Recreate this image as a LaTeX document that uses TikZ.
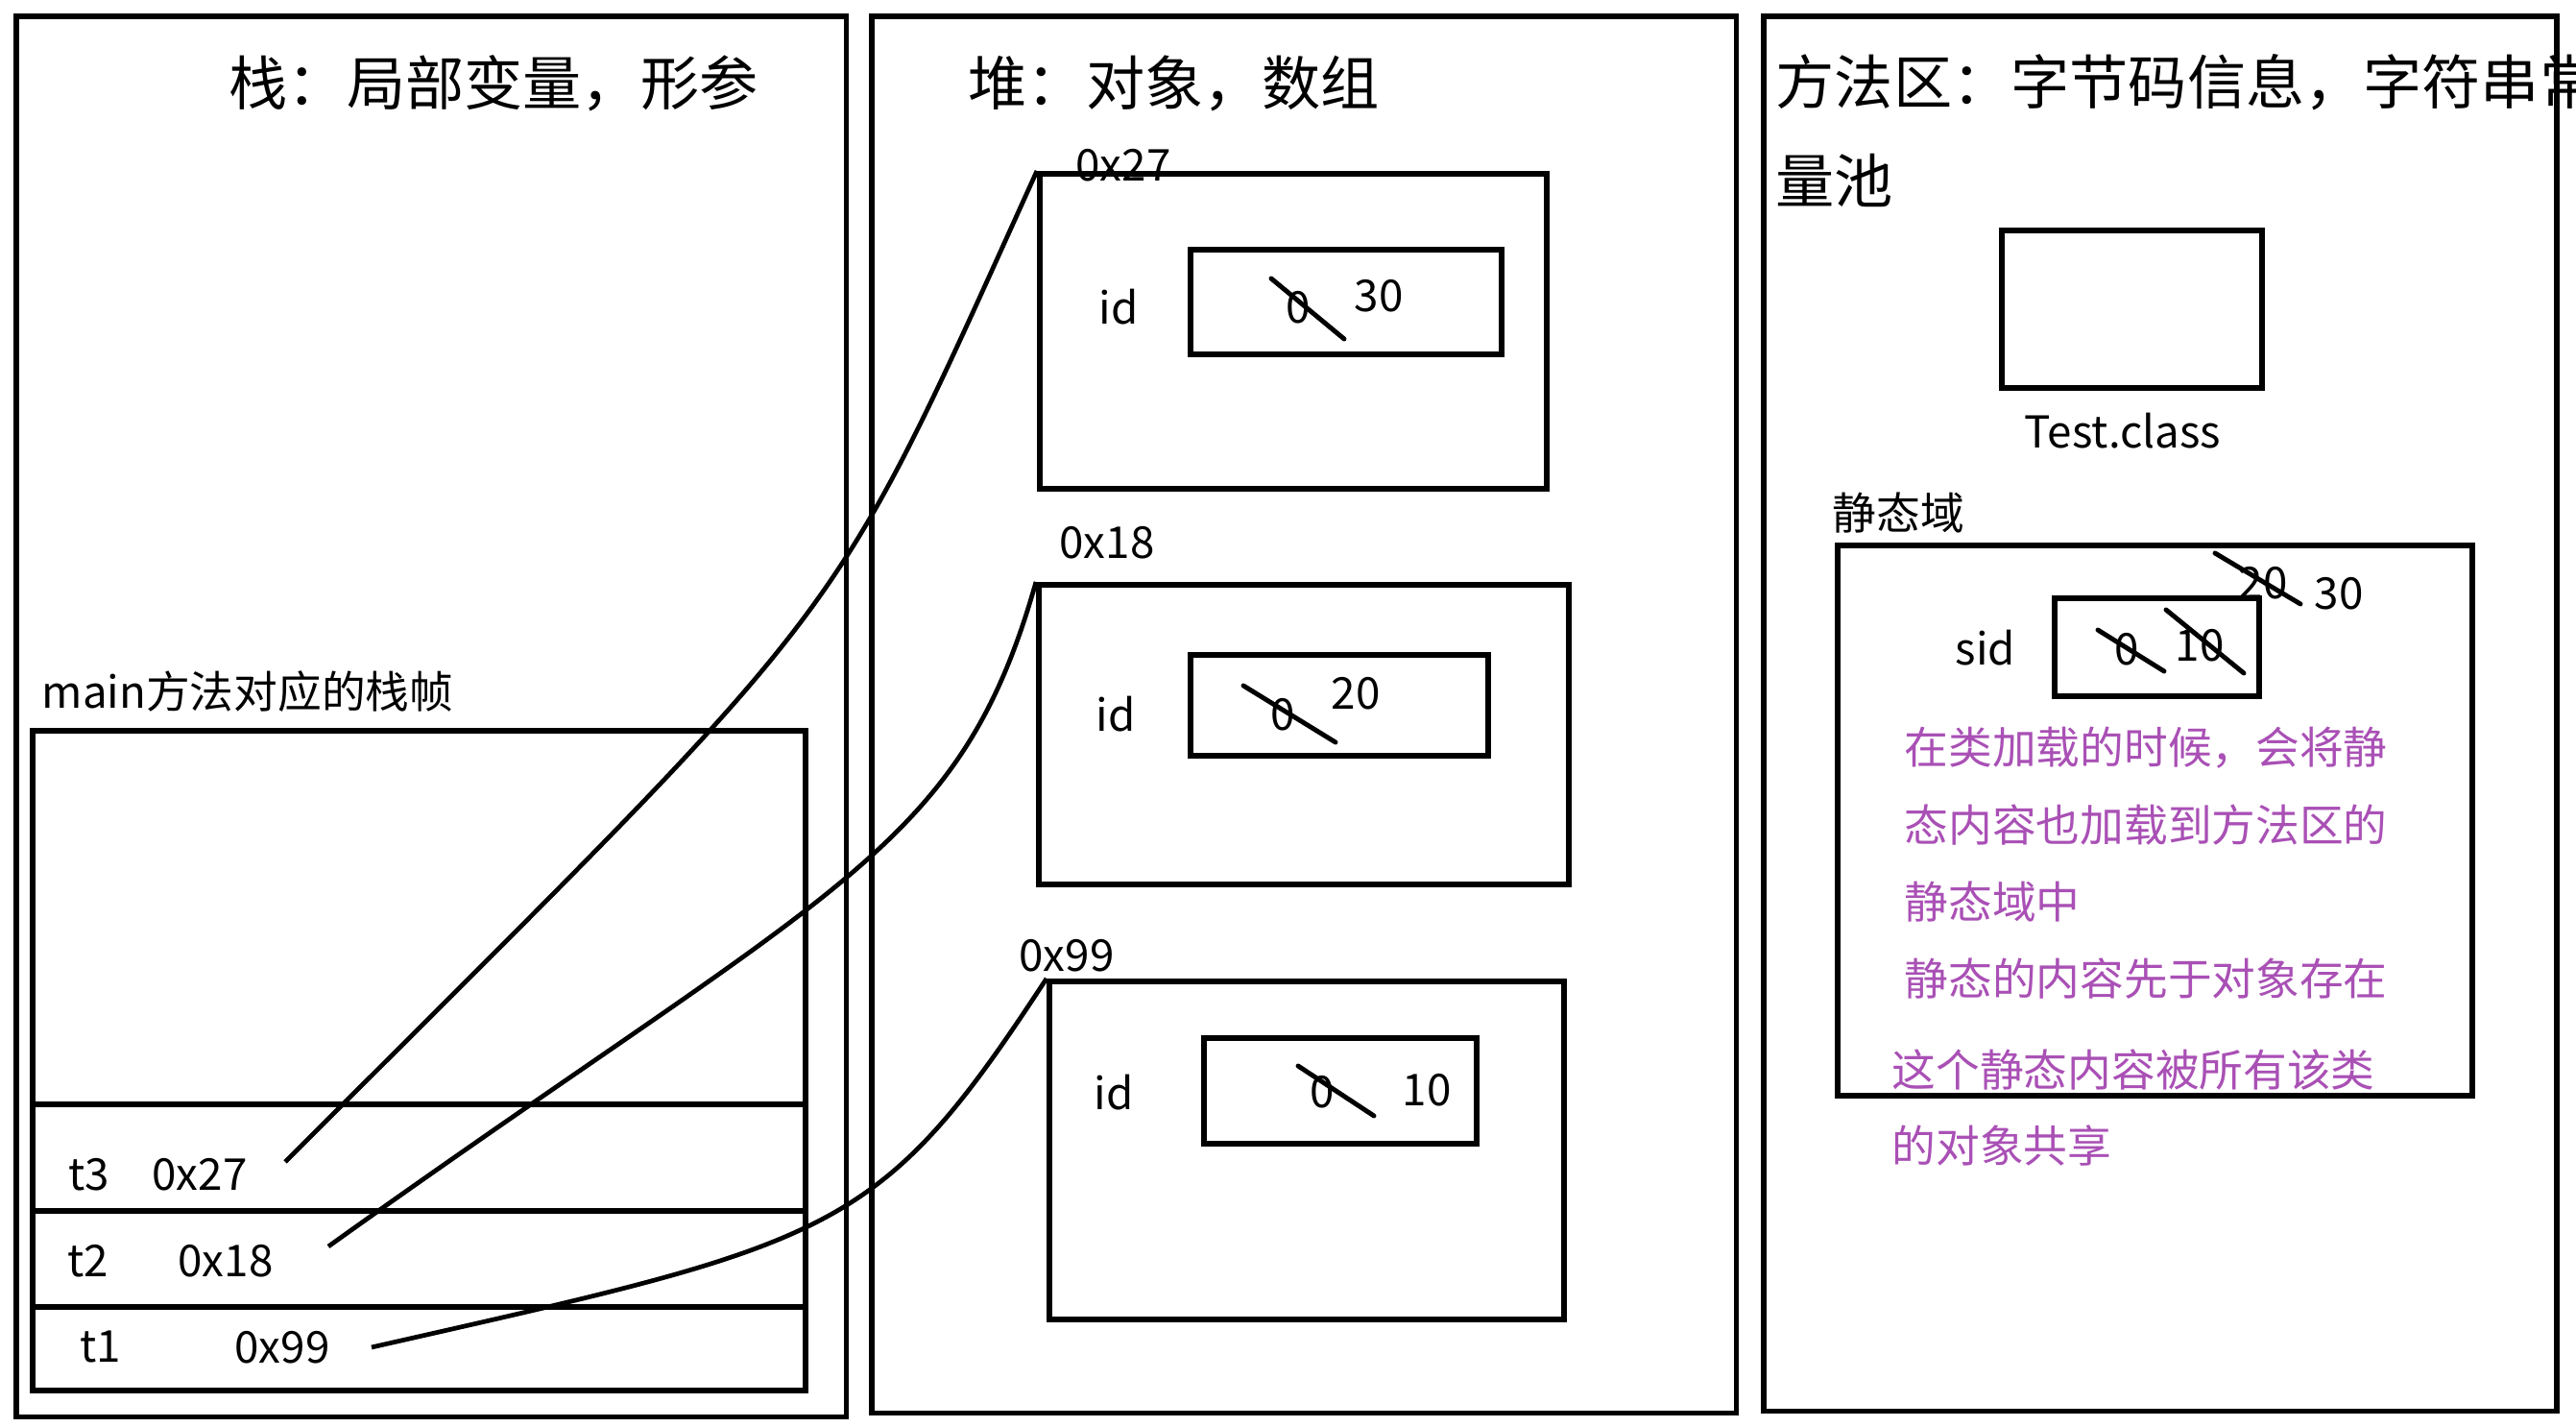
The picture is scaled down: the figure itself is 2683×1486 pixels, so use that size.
\documentclass[tikz,border=0pt]{standalone}
\usepackage{fontspec}
\setmainfont{Noto Sans CJK SC}
\usetikzlibrary{positioning, calc}
\definecolor{NotePurple}{HTML}{A950B5}

\tikzset{
  panel/.style={draw, line width=1.6pt, anchor=north west, inner sep=0pt},
  slot/.style={draw, line width=1.6pt, anchor=north west, inner sep=0pt},
  lbl/.style={font=\fontsize{13pt}{15pt}\selectfont, inner sep=0pt},
  areatitle/.style={font=\fontsize{17.4pt}{20pt}\selectfont, inner sep=0pt, anchor=west},
  note/.style={lbl, text=NotePurple, anchor=west},
  strike/.style={line width=1.4pt, line cap=round},
  pointer/.style={line width=1.35pt},
}

\begin{document}
\begin{tikzpicture}[x=0.01cm, y=-0.01cm]
  \useasboundingbox (0,0) rectangle (2683,1486);

  % three memory areas
  \node[panel, minimum width=8.64cm, minimum height=14.58cm] (stack) at (14,14) {};
  \node[panel, minimum width=9.00cm, minimum height=14.54cm] (heap) at (905,14) {};
  \node[panel, minimum width=8.26cm, minimum height=14.52cm] (method) at (1834,14) {};

  \node[areatitle] (stackT) at (238,87) {栈：局部变量，形参};
  \node[areatitle] (heapT) at (1008,87) {堆：对象，数组};
  \node[areatitle] (methodT) at (1849,86) {方法区：字节码信息，字符串常};
  \node[areatitle] (methodT2) at (1849,188) {量池};

  % stack frame of main
  \node[lbl, anchor=west] (frameT) at (43,720) {main方法对应的栈帧};
  \node[slot, minimum width=8.05cm, minimum height=6.87cm] (frame) at (31,758) {};
  \foreach \y in {1150,1261,1361}
    \draw[line width=1.6pt] (frame.west |- 0,\y) -- (frame.east |- 0,\y);

  \node[lbl] (t3) at (93,1223) {t3};
  \node[lbl] (v3) at (208,1223) {0x27};
  \node[lbl] (t2) at (92,1313) {t2};
  \node[lbl] (v2) at (235,1313) {0x18};
  \node[lbl] (t1) at (105,1403) {t1};
  \node[lbl] (v1) at (294,1403) {0x99};

  % objects in the heap
  \node[slot, minimum width=5.28cm, minimum height=3.28cm] (obj27) at (1080,178) {};
  \node[slot, minimum width=3.24cm, minimum height=1.09cm] (box27) at (1237,257) {};
  \node[lbl] (a27) at (1170,172) {0x27};
  \node[lbl] (id27) at (1165,320) {id};
  \node[lbl] (old27) at (1352,320) {0};
  \node[lbl] (new27) at (1436,308) {30};
  \draw[strike] (1324,290) -- (1400,353);

  \node[slot, minimum width=5.52cm, minimum height=3.12cm] (obj18) at (1079,606) {};
  \node[slot, minimum width=3.10cm, minimum height=1.05cm] (box18) at (1237,679) {};
  \node[lbl] (a18) at (1153,565) {0x18};
  \node[lbl] (id18) at (1162,744) {id};
  \node[lbl] (old18) at (1336,744) {0};
  \node[lbl] (new18) at (1412,722) {20};
  \draw[strike] (1295,714) -- (1391,773);

  \node[slot, minimum width=5.36cm, minimum height=3.52cm] (obj99) at (1090,1019) {};
  \node[slot, minimum width=2.84cm, minimum height=1.10cm] (box99) at (1251,1078) {};
  \node[lbl] (a99) at (1111,995) {0x99};
  \node[lbl] (id99) at (1160,1138) {id};
  \node[lbl] (old99) at (1377,1137) {0};
  \node[lbl] (new99) at (1486,1135) {10};
  \draw[strike] (1352,1110) -- (1431,1162);

  % references from the stack
  \coordinate (p27) at (297,1210);
  \coordinate (p18) at (342,1298);
  \coordinate (p99) at (387,1403);
  \draw[pointer] (p27) .. controls +(600,-600) and +(-222,490) .. (obj27.north west);
  \draw[pointer] (p18) .. controls +(527,-377) and +(-80,283) .. (obj18.north west);
  \draw[pointer] (p99) .. controls +(485,-110) and +(-176,269) .. (obj99.north west);

  % method area
  \node[slot, minimum width=2.71cm, minimum height=1.64cm] (classbox) at (2082,237) {};
  \node[lbl] (classT) at (2211,449) {Test.class};

  \node[lbl, anchor=west] (staticT) at (1908,534) {静态域};
  \node[slot, minimum width=6.61cm, minimum height=5.73cm] (static) at (1911,565) {};
  \node[slot, minimum width=2.13cm, minimum height=1.02cm] (sidbox) at (2137,620) {};
  \node[lbl] (sid) at (2068,675) {sid};
  \node[lbl] (sid0) at (2215,676) {0};
  \node[lbl] (sid10) at (2291,672) {10};
  \node[lbl] (sid20) at (2357,607) {20};
  \node[lbl] (sid30) at (2436,618) {30};
  \draw[strike] (2185,656) -- (2254,699);
  \draw[strike] (2256,635) -- (2337,701);
  \draw[strike] (2307,576) -- (2396,629);

  \foreach \txt [count=\i] in {在类加载的时候，会将静, 态内容也加载到方法区的, 静态域中, 静态的内容先于对象存在}
    \node[note] (note\i) at (1983,{779+80*(\i-1)}) {\txt};
  \node[note] (note5) at (1970,1114) {这个静态内容被所有该类};
  \node[note] (note6) at (1970,1193) {的对象共享};
\end{tikzpicture}
\end{document}
